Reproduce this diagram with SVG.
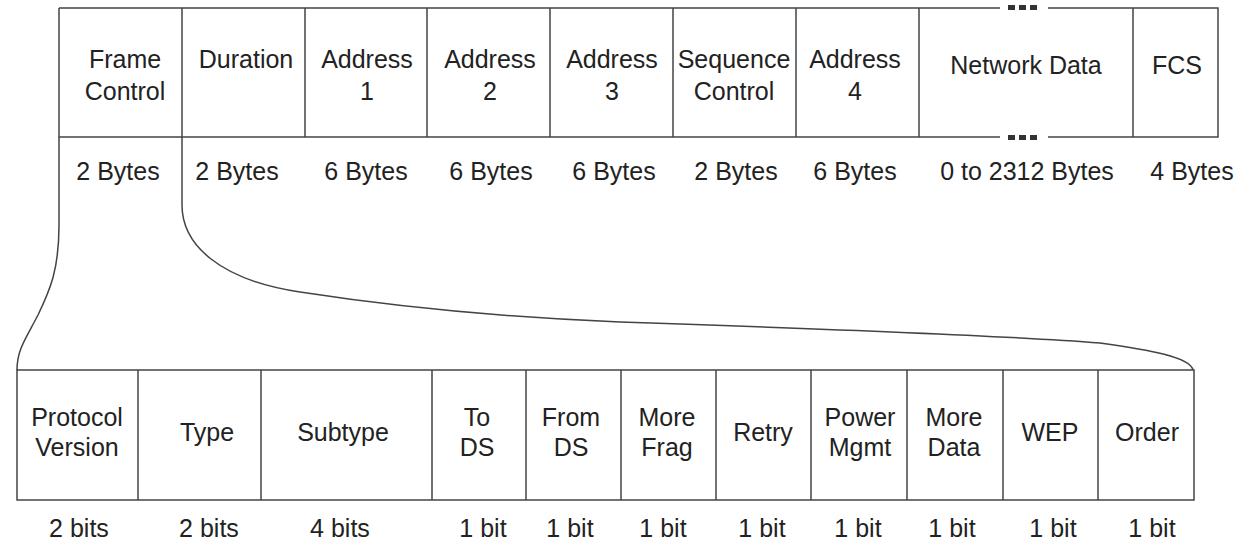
<svg xmlns="http://www.w3.org/2000/svg" width="1245" height="548" viewBox="0 0 1245 548">
<style>
.ln{fill:none;stroke:#444;stroke-width:1.5}
.t{font-family:"Liberation Sans",Arial,sans-serif;font-size:25px;fill:#222;text-anchor:middle}
.dot{fill:#333}
</style>
<rect width="1245" height="548" fill="#fff"/>
<g id="frame">
<path class="ln" d="M59,8 H1000 M1048,8 H1218 V137 H1048 M1000,137 H59 V8"/>
<path class="ln" d="M182,8 V137 M305,8 V137 M427,8 V137 M550,8 V137 M673,8 V137 M796,8 V137 M919,8 V137 M1133,8 V137"/>
<rect class="dot" x="1008" y="5" width="7" height="5"/>
<rect class="dot" x="1019" y="5" width="7" height="5"/>
<rect class="dot" x="1030" y="5" width="7" height="5"/>
<rect class="dot" x="1008" y="135" width="7" height="5"/>
<rect class="dot" x="1019" y="135" width="7" height="5"/>
<rect class="dot" x="1030" y="135" width="7" height="5"/>
</g>
<g id="n-framecontrol"><text class="t" x="125" y="68">Frame</text><text class="t" x="125" y="100">Control</text><text class="t" x="118" y="180">2 Bytes</text></g>
<g id="n-duration"><text class="t" x="246" y="68">Duration</text><text class="t" x="237" y="180">2 Bytes</text></g>
<g id="n-addr1"><text class="t" x="367" y="68">Address</text><text class="t" x="367" y="100">1</text><text class="t" x="366" y="180">6 Bytes</text></g>
<g id="n-addr2"><text class="t" x="490" y="68">Address</text><text class="t" x="490" y="100">2</text><text class="t" x="491" y="180">6 Bytes</text></g>
<g id="n-addr3"><text class="t" x="612" y="68">Address</text><text class="t" x="612" y="100">3</text><text class="t" x="614" y="180">6 Bytes</text></g>
<g id="n-seq"><text class="t" x="734" y="68">Sequence</text><text class="t" x="734" y="100">Control</text><text class="t" x="736" y="180">2 Bytes</text></g>
<g id="n-addr4"><text class="t" x="855" y="68">Address</text><text class="t" x="855" y="100">4</text><text class="t" x="855" y="180">6 Bytes</text></g>
<g id="n-data"><text class="t" x="1026" y="74">Network Data</text><text class="t" x="1027" y="180">0 to 2312 Bytes</text></g>
<g id="n-fcs"><text class="t" x="1177" y="74">FCS</text><text class="t" x="1192" y="180">4 Bytes</text></g>
<g id="connectors">
<path class="ln" d="M59,137 V225 C59,270 50,290 38,315 C25,340 17,350 17,370"/>
<path class="ln" d="M182,137 V205 C182,245 220,280 300,292 C404,308 520,318 620,322 C800,328 1000,335 1100,343 C1150,350 1190,357 1193,370"/>
</g>
<g id="fc-fields">
<rect class="ln" x="17" y="370" width="1177" height="130"/>
<path class="ln" d="M138,370 V500 M261,370 V500 M432,370 V500 M526,370 V500 M621,370 V500 M716,370 V500 M811,370 V500 M907,370 V500 M1003,370 V500 M1098,370 V500"/>
</g>
<g id="n-proto"><text class="t" x="77" y="426">Protocol</text><text class="t" x="77" y="456">Version</text><text class="t" x="79" y="537">2 bits</text></g>
<g id="n-type"><text class="t" x="207" y="441">Type</text><text class="t" x="209" y="537">2 bits</text></g>
<g id="n-subtype"><text class="t" x="343" y="441">Subtype</text><text class="t" x="340" y="537">4 bits</text></g>
<g id="n-tods"><text class="t" x="477" y="426">To</text><text class="t" x="477" y="456">DS</text><text class="t" x="483" y="537">1 bit</text></g>
<g id="n-fromds"><text class="t" x="571" y="426">From</text><text class="t" x="571" y="456">DS</text><text class="t" x="570" y="537">1 bit</text></g>
<g id="n-morefrag"><text class="t" x="667" y="426">More</text><text class="t" x="667" y="456">Frag</text><text class="t" x="663" y="537">1 bit</text></g>
<g id="n-retry"><text class="t" x="763" y="441">Retry</text><text class="t" x="762" y="537">1 bit</text></g>
<g id="n-power"><text class="t" x="860" y="426">Power</text><text class="t" x="860" y="456">Mgmt</text><text class="t" x="858" y="537">1 bit</text></g>
<g id="n-moredata"><text class="t" x="954" y="426">More</text><text class="t" x="954" y="456">Data</text><text class="t" x="952" y="537">1 bit</text></g>
<g id="n-wep"><text class="t" x="1050" y="441">WEP</text><text class="t" x="1053" y="537">1 bit</text></g>
<g id="n-order"><text class="t" x="1147" y="441">Order</text><text class="t" x="1152" y="537">1 bit</text></g>
</svg>
